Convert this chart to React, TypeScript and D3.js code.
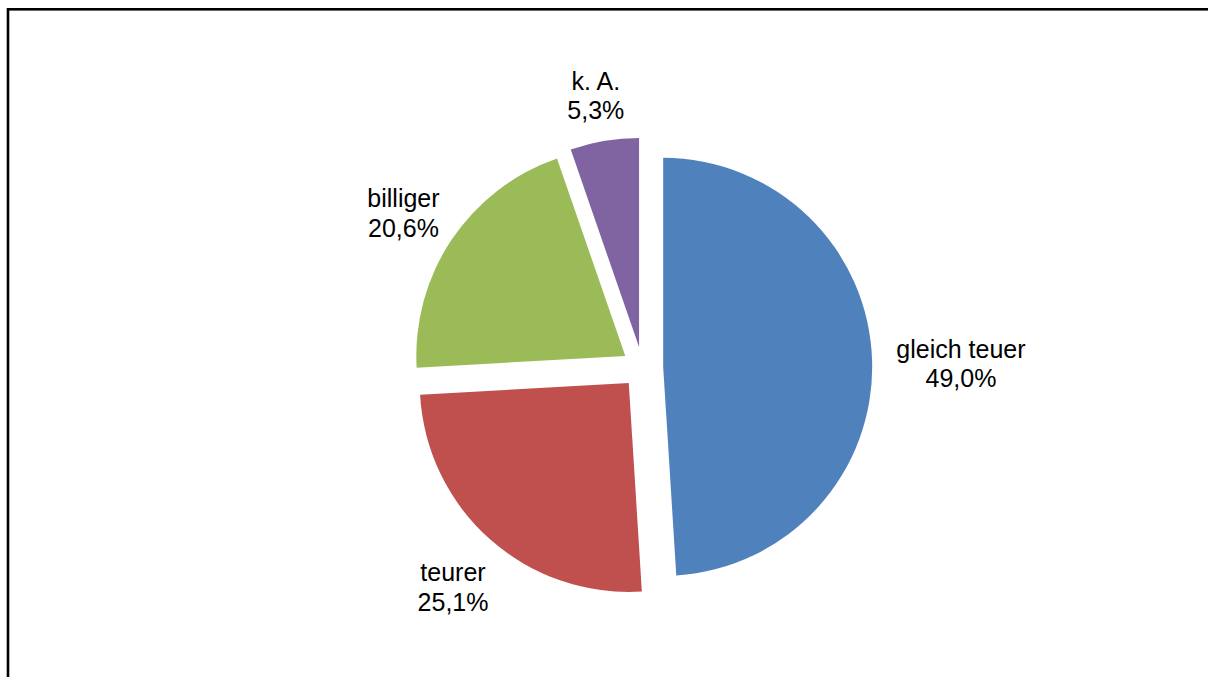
import React, { useEffect, useRef } from "react";
import * as d3 from "d3";

const categories = ["gleich teuer", "teurer", "billiger", "k. A."];
const values = [49.0, 25.1, 20.6, 5.3];
const colors = ["#4F81BD", "#C0504D", "#9BBB59", "#8064A2"];

const W = 1208;
const H = 677;
const CX = 642.5;
const CY = 367.5;
const RADIUS = 209;
const EXPLODE = 20.7;
const LABEL_R = 254;
const LABEL_DY = 6;
const FONT = 25;
const LINE = 29.5;

export default function App() {
  const ref = useRef<SVGSVGElement | null>(null);

  useEffect(() => {
    const svg = d3.select(ref.current);
    svg.selectAll("*").remove();

    svg
      .append("rect")
      .attr("x", 8)
      .attr("y", 9.3)
      .attr("width", 1400)
      .attr("height", 900)
      .attr("fill", "white")
      .attr("stroke", "black")
      .attr("stroke-width", 2.6);

    const pie = d3
      .pie<number>()
      .sort(null)
      .value((d) => d)
      .startAngle(0)
      .endAngle(2 * Math.PI);
    const arcs = pie(values);
    const arc = d3.arc<d3.PieArcDatum<number>>().innerRadius(0).outerRadius(RADIUS);

    const g = svg.append("g").attr("transform", `translate(${CX},${CY})`);

    arcs.forEach((a, i) => {
      const mid = (a.startAngle + a.endAngle) / 2;
      const ux = Math.sin(mid);
      const uy = -Math.cos(mid);
      g.append("path")
        .attr("d", arc(a) as string)
        .attr("fill", colors[i])
        .attr("transform", `translate(${ux * EXPLODE},${uy * EXPLODE})`);
    });

    arcs.forEach((a, i) => {
      const mid = (a.startAngle + a.endAngle) / 2;
      const ux = Math.sin(mid);
      const uy = -Math.cos(mid);
      const label = g
        .append("text")
        .attr("text-anchor", "middle")
        .attr("font-family", "'Liberation Sans', Arial, sans-serif")
        .attr("font-size", FONT)
        .attr("fill", "black");
      label.append("tspan").attr("x", 0).attr("y", 0).text(categories[i]);
      label
        .append("tspan")
        .attr("x", 0)
        .attr("y", LINE)
        .text(values[i].toFixed(1).replace(".", ",") + "%");
      const node = label.node() as SVGTextElement;
      const bb = node.getBBox();
      const w = bb.width;
      const h = 56;
      const extra = Math.sqrt((ux * w / 2) ** 2 + (uy * h / 2) ** 2);
      const dist = LABEL_R + extra;
      const cx = ux * dist;
      const cy = uy * dist + LABEL_DY;
      const bcx = bb.x + bb.width / 2;
      const bcy = bb.y + bb.height / 2;
      label.attr("transform", `translate(${cx - bcx},${cy - bcy})`);
    });
  }, []);

  return (
    <svg
      ref={ref}
      width={W}
      height={H}
      style={{ position: "absolute", left: 0, top: 0, display: "block", background: "white" }}
    />
  );
}
